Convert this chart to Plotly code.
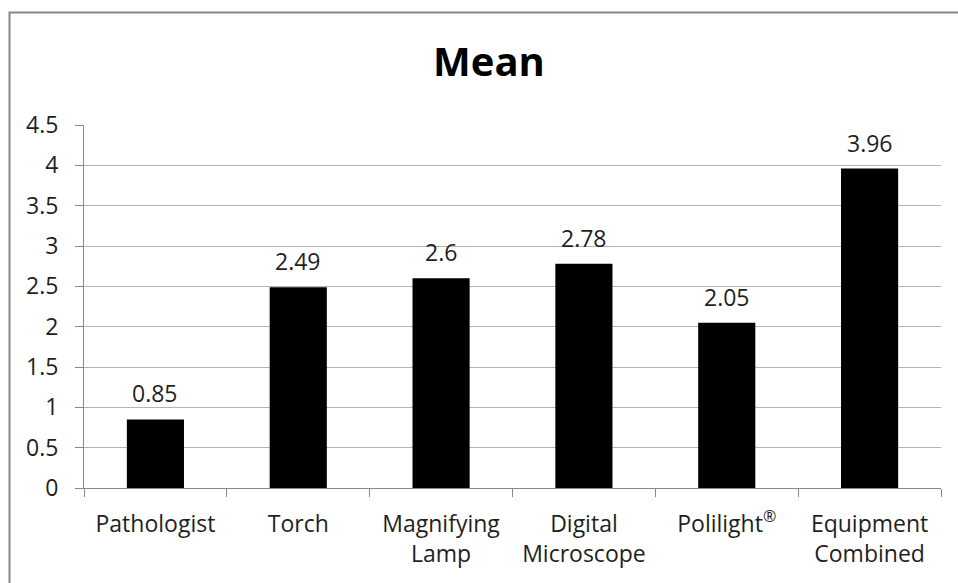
import plotly.graph_objects as go

# Mean score per examination method
categories = ["Pathologist", "Torch", "Magnifying<br>Lamp", "Digital<br>Microscope",
              "Polilight<sup>®</sup>", "Equipment<br>Combined"]
means = [0.85, 2.49, 2.6, 2.78, 2.05, 3.96]
value_labels = ["0.85", "2.49", "2.6", "2.78", "2.05", "3.96"]
y_ticks = [0, 0.5, 1, 1.5, 2, 2.5, 3, 3.5, 4, 4.5]
y_tick_text = ["0", "0.5", "1", "1.5", "2", "2.5", "3", "3.5", "4", "4.5"]

W, H = 958, 583
L, R, T, B = 84, 17, 125, 95
FONT = "Open Sans"
TEXT = "#1f1f1f"

fig = go.Figure(
    go.Bar(
        x=categories,
        y=means,
        marker=dict(color="black", line=dict(width=0)),
        width=0.4,
        hoverinfo="skip",
    )
)

# value labels floating above each bar
for c, v, t in zip(categories, means, value_labels):
    fig.add_annotation(
        x=c, y=v, text=t, showarrow=False, yanchor="middle", yshift=26,
        font=dict(family=FONT, size=23, color=TEXT),
    )

# outer frame of the chart area (top and left edges visible)
pw, ph = W - L - R, H - T - B
fig.add_shape(
    type="rect", xref="paper", yref="paper",
    x0=(9.5 - L) / pw, x1=2.0, y0=-1.0, y1=(H - B - 12.5) / ph,
    line=dict(color="#878787", width=2), fillcolor="rgba(0,0,0,0)", layer="above",
)

fig.update_layout(
    width=W, height=H,
    margin=dict(l=L, r=R, t=T, b=B),
    paper_bgcolor="white", plot_bgcolor="white",
    showlegend=False,
    title=dict(
        text="<b>Mean</b>", xref="container", x=489 / W, xanchor="center",
        yref="container", y=1 - 62 / H, yanchor="middle",
        font=dict(family=FONT, size=40, color="black"),
    ),
    font=dict(family=FONT, size=23, color=TEXT),
)

fig.update_xaxes(
    type="category",
    showline=True, linecolor="#888888", linewidth=1,
    ticks="outside", tickson="boundaries", ticklen=8, tickcolor="#888888",
    showgrid=False, tickfont=dict(family=FONT, size=23, color=TEXT),
    ticklabelstandoff=15,
)
fig.update_yaxes(
    range=[0, 4.5], tickvals=y_ticks, ticktext=y_tick_text,
    showline=True, linecolor="#888888", linewidth=1,
    ticks="outside", ticklen=8, tickcolor="#888888",
    showgrid=True, gridcolor="#b3b3b3", gridwidth=1,
    zeroline=False, tickfont=dict(family=FONT, size=23, color=TEXT),
    ticklabelstandoff=12,
)

fig.write_html("out.html")
